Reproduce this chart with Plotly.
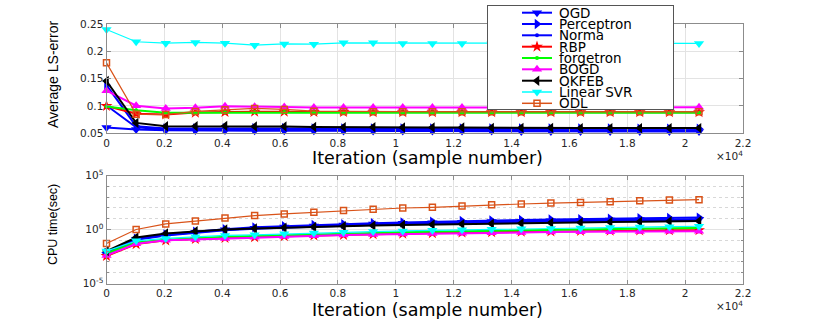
import plotly.graph_objects as go

# ---------------- data ----------------
iters = [0, 1024, 2048, 3072, 4096, 5120, 6144, 7168, 8192, 9216, 10240,
         11264, 12288, 13312, 14336, 15360, 16384, 17408, 18432, 19456, 20480]

methods = ["OGD", "Perceptron", "Norma", "RBP", "forgetron", "BOGD", "OKFEB", "Linear SVR", "ODL"]

err_OGD = [0.0605, 0.057, 0.0555, 0.055, 0.055, 0.0545, 0.0545, 0.0545, 0.054, 0.054, 0.054,
           0.054, 0.054, 0.054, 0.0535, 0.0535, 0.0535, 0.0535, 0.0535, 0.0535, 0.0535]
err_Perceptron = [0.138, 0.063, 0.059, 0.059, 0.0595, 0.0595, 0.0595, 0.059, 0.059, 0.059, 0.059,
                  0.059, 0.059, 0.059, 0.059, 0.059, 0.059, 0.059, 0.0585, 0.0585, 0.0585]
err_Norma = [0.101, 0.061, 0.057, 0.0565, 0.0565, 0.0565, 0.0565, 0.056, 0.056, 0.056, 0.056,
             0.056, 0.056, 0.056, 0.056, 0.056, 0.056, 0.0555, 0.0555, 0.0555, 0.0555]
err_RBP = [0.100, 0.086, 0.0845, 0.088, 0.089, 0.0895, 0.0895, 0.089, 0.089, 0.0888, 0.0888,
           0.0888, 0.0888, 0.0888, 0.0887, 0.0887, 0.0887, 0.0887, 0.0887, 0.0887, 0.0887]
err_forgetron = [0.099, 0.092, 0.0878, 0.0878, 0.0887, 0.089, 0.089, 0.0885, 0.088, 0.088, 0.088,
                 0.088, 0.088, 0.0878, 0.0878, 0.0875, 0.0875, 0.0875, 0.0875, 0.0875, 0.0875]
err_BOGD = [0.128, 0.1004, 0.0955, 0.0967, 0.0997, 0.0985, 0.098, 0.097, 0.097, 0.097, 0.097,
            0.097, 0.097, 0.097, 0.097, 0.097, 0.097, 0.097, 0.097, 0.0975, 0.0975]
err_OKFEB = [0.1457, 0.069, 0.063, 0.063, 0.0635, 0.0625, 0.0625, 0.0615, 0.061, 0.061, 0.0605,
             0.0605, 0.0605, 0.060, 0.060, 0.060, 0.0595, 0.0595, 0.0595, 0.0595, 0.0595]
err_LinearSVR = [0.240, 0.2175, 0.215, 0.2163, 0.215, 0.2113, 0.2135, 0.213, 0.2155, 0.2155, 0.2145,
                 0.2145, 0.2145, 0.2145, 0.2145, 0.2145, 0.2145, 0.2145, 0.2145, 0.2145, 0.2145]
err_ODL = [0.179, 0.085, 0.0844, 0.090, 0.093, 0.0955, 0.0936, 0.0905, 0.090, 0.0895, 0.0895,
           0.0893, 0.0893, 0.0893, 0.0893, 0.0893, 0.0893, 0.0893, 0.0893, 0.0893, 0.0893]

cpu_OGD = [0.005, 0.126, 0.316, 0.562, 0.955, 1.32, 1.70, 2.14, 2.63, 3.16, 3.72,
           4.27, 4.79, 5.37, 5.89, 6.46, 7.08, 7.59, 8.13, 8.71, 9.12]
cpu_Perceptron = [0.0063, 0.141, 0.355, 0.631, 1.07, 1.58, 2.00, 2.63, 3.16, 3.80, 4.47,
                  5.25, 6.03, 6.76, 7.59, 8.32, 9.12, 10.0, 11.0, 11.7, 12.6]
cpu_Norma = [0.004, 0.112, 0.282, 0.501, 0.832, 1.15, 1.48, 1.86, 2.29, 2.75, 3.16,
             3.63, 4.17, 4.68, 5.13, 5.62, 6.17, 6.61, 7.08, 7.59, 7.94]
cpu_RBP = [0.0035, 0.045, 0.100, 0.132, 0.166, 0.200, 0.240, 0.282, 0.324, 0.372, 0.417,
           0.468, 0.525, 0.575, 0.631, 0.676, 0.741, 0.794, 0.832, 0.851, 0.871]
cpu_forgetron = [0.0063, 0.063, 0.112, 0.158, 0.209, 0.251, 0.302, 0.355, 0.417, 0.479, 0.550,
                 0.617, 0.692, 0.759, 0.851, 0.933, 1.02, 1.12, 1.23, 1.32, 1.41]
cpu_BOGD = [0.004, 0.047, 0.100, 0.120, 0.148, 0.195, 0.229, 0.269, 0.302, 0.339, 0.380,
            0.417, 0.457, 0.501, 0.537, 0.575, 0.603, 0.631, 0.661, 0.676, 0.692]
cpu_OKFEB = [0.010, 0.182, 0.427, 0.692, 1.00, 1.23, 1.48, 1.74, 2.00, 2.29, 2.57,
             2.88, 3.16, 3.47, 3.80, 4.17, 4.47, 4.90, 5.25, 5.75, 6.17]
cpu_LinearSVR = [0.010, 0.089, 0.148, 0.209, 0.282, 0.324, 0.398, 0.479, 0.562, 0.646, 0.741,
                 0.832, 0.933, 1.05, 1.15, 1.26, 1.38, 1.51, 1.66, 1.82, 2.00]
cpu_ODL = [0.051, 1.0, 3.3, 6.2, 11.7, 19.5, 27.5, 38.9, 56.2, 74.1, 97.7,
           112, 148, 200, 229, 282, 324, 380, 468, 525, 575]

x_tick_vals = [0, 2000, 4000, 6000, 8000, 10000, 12000, 14000, 16000, 18000, 20000, 22000]
x_tick_text = ["0", "0.2", "0.4", "0.6", "0.8", "1", "1.2", "1.4", "1.6", "1.8", "2", "2.2"]
err_tick_vals = [0.05, 0.1, 0.15, 0.2, 0.25]
err_tick_text = ["0.05", "0.1", "0.15", "0.2", "0.25"]
cpu_tick_vals = [1e-5, 1, 1e5]
cpu_tick_text = ["10<sup>-5</sup>", "10<sup>0</sup>", "10<sup>5</sup>"]
cpu_minor_vals = [1e-4, 1e-3, 1e-2, 1e-1, 1e1, 1e2, 1e3, 1e4]

# ---------------- styles ----------------
err_series = [err_OGD, err_Perceptron, err_Norma, err_RBP, err_forgetron,
              err_BOGD, err_OKFEB, err_LinearSVR, err_ODL]
cpu_series = [cpu_OGD, cpu_Perceptron, cpu_Norma, cpu_RBP, cpu_forgetron,
              cpu_BOGD, cpu_OKFEB, cpu_LinearSVR, cpu_ODL]
colors = ["#0000FF", "#0000FF", "#0000FF", "#FF0000", "#00FF00",
          "#FF00FF", "#000000", "#00FFFF", "#D95319"]
symbols = ["triangle-down", "triangle-right", "circle", "star", "circle",
           "triangle-up", "triangle-left", "triangle-down", "square-open"]
msizes = [9, 9, 4, 9, 4, 9, 9, 9, 6]
lwidths = [2, 2, 2, 2, 2, 2, 2, 1.2, 1.2]

W, H = 822, 319


def px(x):
    return x / W


def py(y):
    return (H - y) / H


def marker(i, size):
    return dict(symbol=symbols[i], size=size, color=colors[i],
                line=dict(color=colors[i], width=1.5 if symbols[i] == "square-open" else 0))


fig = go.Figure()

for i, name in enumerate(methods):
    fig.add_trace(go.Scatter(x=iters, y=err_series[i], mode="lines+markers", name=name,
                             line=dict(color=colors[i], width=lwidths[i]), marker=marker(i, msizes[i]),
                             xaxis="x", yaxis="y", showlegend=False, cliponaxis=False))
for i, name in enumerate(methods):
    fig.add_trace(go.Scatter(x=iters, y=cpu_series[i], mode="lines+markers", name=name,
                             line=dict(color=colors[i], width=lwidths[i]), marker=marker(i, msizes[i]),
                             xaxis="x2", yaxis="y2", showlegend=False, cliponaxis=False))

# ---------------- manual compact legend (own subplot, drawn over the plot) ----------------
# legend subplot coordinates are pixels inside the legend box (0..185 wide, 0..103 tall)
LEG_L, LEG_R, LEG_T, LEG_B = 488, 673, 6, 109
row_y = [6.7, 18, 29.3, 40.7, 52, 63.3, 74.7, 86, 97.3]
for i, name in enumerate(methods):
    fig.add_trace(go.Scatter(x=[34, 64], y=[row_y[i]] * 2, mode="lines",
                             line=dict(color=colors[i], width=lwidths[i] if i < 7 else 1.5),
                             xaxis="x3", yaxis="y3", showlegend=False, hoverinfo="skip"))
    fig.add_trace(go.Scatter(x=[49], y=[row_y[i]], mode="markers", marker=marker(i, msizes[i]),
                             xaxis="x3", yaxis="y3", showlegend=False, hoverinfo="skip",
                             cliponaxis=False))

annotations = []
for i, name in enumerate(methods):
    annotations.append(dict(x=px(LEG_L + 69), y=py(LEG_T + row_y[i]), xref="paper", yref="paper",
                            text=name, showarrow=False, xanchor="left", yanchor="middle",
                            font=dict(family="DejaVu Sans", size=13.5, color="#000000")))

tickfont = dict(family="DejaVu Sans", size=10.5, color="#262626")
axis_common = dict(showline=True, mirror="allticks", linecolor="#8c8c8c", linewidth=1,
                   ticks="inside", ticklen=4, tickcolor="#8c8c8c", tickfont=tickfont,
                   zeroline=False, showgrid=True, gridcolor="#e3e3e3", gridwidth=1,
                   automargin=False)

xdom = [px(106.5), px(743)]

annotations += [
    dict(x=px(427), y=py(157.5), xref="paper", yref="paper", text="Iteration (sample number)",
         showarrow=False, xanchor="center", yanchor="middle",
         font=dict(family="DejaVu Sans", size=17.5, color="#000000")),
    dict(x=px(427), y=py(309.5), xref="paper", yref="paper", text="Iteration (sample number)",
         showarrow=False, xanchor="center", yanchor="middle",
         font=dict(family="DejaVu Sans", size=17.5, color="#000000")),
    dict(x=px(745), y=py(155), xref="paper", yref="paper", text="×10<sup>4</sup>",
         showarrow=False, xanchor="right", yanchor="middle",
         font=dict(family="DejaVu Sans", size=10.5, color="#262626")),
    dict(x=px(745), y=py(305), xref="paper", yref="paper", text="×10<sup>4</sup>",
         showarrow=False, xanchor="right", yanchor="middle",
         font=dict(family="DejaVu Sans", size=10.5, color="#262626")),
    dict(x=px(53), y=py(75), xref="paper", yref="paper", text="Average LS-error",
         showarrow=False, textangle=-90, xanchor="center", yanchor="middle",
         font=dict(family="Liberation Sans", size=14, color="#000000")),
    dict(x=px(53), y=py(225), xref="paper", yref="paper", text="CPU time(sec)",
         showarrow=False, textangle=-90, xanchor="center", yanchor="middle",
         font=dict(family="Liberation Sans", size=12.5, color="#000000")),
]

fig.update_layout(
    width=W, height=H, margin=dict(l=0, r=0, t=0, b=0, autoexpand=False),
    paper_bgcolor="white", plot_bgcolor="white", showlegend=False,
    xaxis=dict(domain=xdom, range=[0, 22000], tickvals=x_tick_vals, ticktext=x_tick_text,
               anchor="y", **axis_common),
    yaxis=dict(domain=[py(133.3), py(24)], range=[0.05, 0.25], tickvals=err_tick_vals,
               ticktext=err_tick_text, anchor="x", **axis_common),
    xaxis2=dict(domain=xdom, range=[0, 22000], tickvals=x_tick_vals, ticktext=x_tick_text,
                anchor="y2", **axis_common),
    yaxis2=dict(domain=[py(283.5), py(175.5)], type="log", range=[-5, 5],
                tickvals=cpu_tick_vals, ticktext=cpu_tick_text, anchor="x2",
                minor=dict(tickvals=cpu_minor_vals, ticks="inside", ticklen=2,
                           tickcolor="#8c8c8c", showgrid=True, gridcolor="#d8d8d8",
                           griddash="dot", gridwidth=1),
                **axis_common),
    xaxis3=dict(domain=[px(LEG_L), px(LEG_R)], range=[0, LEG_R - LEG_L], autorange=False,
                showline=True, mirror=True,
                linecolor="#555555", linewidth=1, showgrid=False, zeroline=False,
                showticklabels=False, ticks="", anchor="y3", fixedrange=True, automargin=False),
    yaxis3=dict(domain=[py(LEG_B), py(LEG_T)], range=[LEG_B - LEG_T, 0], autorange=False,
                showline=True, mirror=True,
                linecolor="#555555", linewidth=1, showgrid=False, zeroline=False,
                showticklabels=False, ticks="", anchor="x3", fixedrange=True, automargin=False),
    annotations=annotations,
)

fig.write_html("out.html", config={"displayModeBar": False},
               post_script="document.body.style.margin='0';document.body.style.overflow='hidden';")
